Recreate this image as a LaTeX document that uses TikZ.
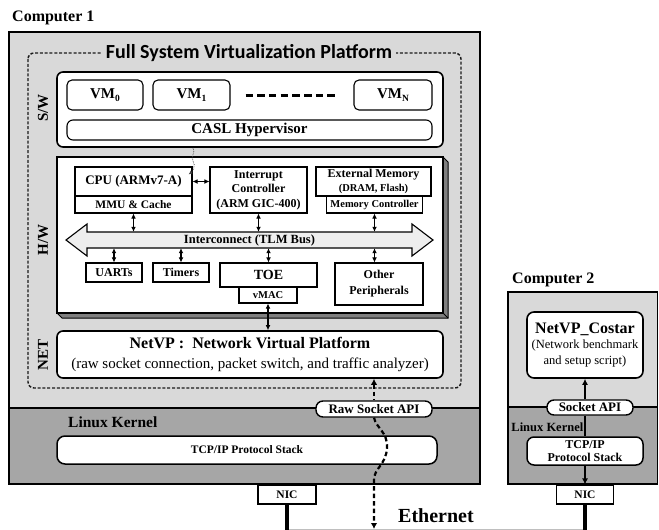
\documentclass[tikz,border=0pt]{standalone}
\usepackage{fontspec}
\setmainfont{Liberation Serif}
\newfontfamily\headfont{Carlito}
\usetikzlibrary{arrows.meta,calc}

\newcommand\fsz[2]{\fontsize{#1}{#2}\selectfont}
\newcommand\vmsub[1]{\raisebox{-2.5pt}{\fsz{9.5}{9.5}#1}}

\definecolor{lightbg}{HTML}{D9D9D9}
\definecolor{darkbg}{HTML}{A6A6A6}
\definecolor{sidegray}{HTML}{7F7F7F}
\definecolor{busfill}{HTML}{EEEEEE}

\begin{document}
\begin{tikzpicture}[x=1pt,y=-1pt,
  hw/.style={draw, line width=1.1pt, fill=white, inner sep=0pt, align=center},
  rbox/.style={draw, line width=1.6pt, fill=white, rounded corners=6pt, inner sep=0pt, align=center},
  pill/.style={draw, line width=1.4pt, fill=white, rounded corners=7pt, inner sep=0pt, align=center},
  dbl/.style={{Latex[length=5pt,width=4.8pt]}-{Latex[length=5pt,width=4.8pt]}, line width=1.1pt},
  side/.style={rotate=90, font=\bfseries\fsz{15}{15}},
  wire/.style={line width=1.6pt},
  ether/.style={line width=4.5pt},
  netdash/.style={line width=2.2pt, dash pattern=on 4.5pt off 3pt}
]
\useasboundingbox (0,0) rectangle (659,530);

% ---------------- Computer 1 ----------------
\node[font=\bfseries\fsz{16}{16}, anchor=west, inner sep=0pt] (c1label) at (12,18) {Computer 1};
\fill[lightbg] (9,32) rectangle (480,408);
\fill[darkbg] (9,408) rectangle (480,484);
\draw[line width=1.2pt] (9,408) -- (480,408);
\draw[line width=1.5pt] (9,32) rectangle (480,484);

% virtualization platform frame
\draw[line width=1.4pt, black!90, dash pattern=on 3pt off 1.8pt, rounded corners=6pt] (28,53) rectangle (461,388);
\node[fill=lightbg, inner xsep=4pt, inner ysep=1pt, font=\headfont\bfseries\fsz{20}{20}] (fsvp) at (249,53) {Full System Virtualization Platform};

% side labels
\node[side] (swlabel) at (43,108) {S/W};
\node[side] (hwlabel) at (43,240) {H/W};
\node[side] (netlabel) at (43,355) {NET};

% software layer
\node[rbox, minimum width=386pt, minimum height=75pt] (sw) at (250,109.5) {};
\node[rbox, line width=1.1pt, rounded corners=5pt, minimum width=76pt, minimum height=30pt, font=\bfseries\fsz{15}{15}] (vm0) at (105,95) {VM\vmsub{0}};
\node[rbox, line width=1.1pt, rounded corners=5pt, minimum width=77pt, minimum height=30pt, font=\bfseries\fsz{15}{15}] (vm1) at (191.5,95) {VM\vmsub{1}};
\node[rbox, line width=1.1pt, rounded corners=5pt, minimum width=78pt, minimum height=30pt, font=\bfseries\fsz{15}{15}] (vmn) at (393,95) {VM\vmsub{N}};
\draw[line width=3pt, dash pattern=on 7.5pt off 4.2pt] ([xshift=15pt]vm1.east) -- ([xshift=-16pt]vmn.west);
\node[rbox, line width=1.1pt, rounded corners=6pt, minimum width=365pt, minimum height=20pt, font=\bfseries\fsz{15}{15}] (casl) at (249.5,130) {CASL Hypervisor};

% hardware layer (extruded board)
\fill[sidegray] (443,157) -- (448,162) -- (448,318) -- (62,318) -- (57,313) -- (443,313) -- cycle;
\draw[line width=1pt] (443,157) -- (448,162) -- (448,318) -- (62,318) -- (57,313);
\draw[line width=1pt] (443,313) -- (448,318);
\node[hw, line width=1.2pt, minimum width=386pt, minimum height=156pt] (hw) at (250,235) {};

\node[hw, minimum width=117pt, minimum height=29pt, font=\bfseries\fsz{13}{13}] (cpu) at (133.5,181.5) {CPU (ARMv7-A)};
\node[hw, minimum width=117pt, minimum height=17pt, font=\bfseries\fsz{11.5}{11.5}] (mmu) at (133.5,204.5) {MMU \& Cache};
\node[hw, minimum width=97pt, minimum height=46pt, font=\bfseries\fsz{12}{14.5}] (intc) at (258.5,190) {Interrupt\\Controller\\(ARM GIC-400)};
\node[hw, minimum width=115pt, minimum height=29pt, font=\bfseries\fsz{12}{13.5}] (extmem) at (373.5,181.5) {External Memory\\{\fsz{10.5}{13.5}(DRAM, Flash)}};
\node[hw, minimum width=96pt, minimum height=17pt, font=\bfseries\fsz{10.5}{10.5}] (memctl) at (374.5,204.5) {Memory Controller};

% interconnect bus
\draw[line width=1.1pt, fill=busfill] (66,240) -- (87,224) -- (87,232) -- (412,232) -- (412,224) -- (433,240) -- (412,256) -- (412,248) -- (87,248) -- (87,256) -- cycle;
\node[inner sep=0pt, minimum width=325pt, minimum height=16pt, font=\bfseries\fsz{12.5}{12.5}] (bus) at (249.5,240) {Interconnect (TLM Bus)};

\node[hw, minimum width=56pt, minimum height=19pt, font=\bfseries\fsz{12}{12}] (uart) at (114,272.5) {UARTs};
\node[hw, minimum width=56pt, minimum height=19pt, font=\bfseries\fsz{12}{12}] (timers) at (181,272.5) {Timers};
\node[hw, minimum width=97pt, minimum height=24pt, font=\bfseries\fsz{14}{14}] (toe) at (268.5,275) {TOE};
\node[hw, minimum width=58pt, minimum height=16pt, font=\bfseries\fsz{10.5}{10.5}] (vmac) at (268,295) {vMAC};
\node[hw, minimum width=88pt, minimum height=42pt, font=\bfseries\fsz{12}{16}] (other) at (379,284) {Other\\Peripherals};

\draw[dbl] (cpu.east) -- (cpu.east -| intc.west);
\draw[dbl] (mmu.south) -- (mmu.south |- bus.north);
\draw[dbl] (intc.south) -- (intc.south |- bus.north);
\draw[dbl] (memctl.south) -- (memctl.south |- bus.north);
\draw[dbl] (bus.south -| uart.north) -- (uart.north);
\draw[dbl] (bus.south -| timers.north) -- (timers.north);
\draw[dbl] (bus.south -| toe.north) -- (toe.north);
\draw[dbl] (bus.south -| memctl.south) -- (other.north -| memctl.south);

% hypervisor trap into the CPU
\draw[line width=0.7pt, black!75, densely dotted, -{Latex[length=4pt,width=3.5pt]}]
  ([xshift=-57pt]sw.south) .. controls +(3,5) and +(-3,-4) .. ++(0,13)
  .. controls +(3,5) and +(4,-3) .. ([xshift=-4pt,yshift=-8pt]cpu.north east);

% network layer
\node[rbox, minimum width=386pt, minimum height=47pt, font=\fsz{15}{20}] (netvp) at (250,354.5)
  {{\bfseries\fsz{16}{20}NetVP :\ \ Network Virtual Platform}\\(raw socket connection, packet switch, and traffic analyzer)};
\draw[dbl] (vmac.south) -- (vmac.south |- netvp.north);

% Linux kernel of computer 1
\node[font=\bfseries\fsz{15.5}{15.5}, anchor=west, inner sep=0pt] (lk1) at (68,422) {Linux Kernel};
\node[rbox, line width=1.5pt, rounded corners=8pt, minimum width=380pt, minimum height=28pt, font=\bfseries\fsz{11.5}{11.5}] (tcp1) at (247,450) {TCP/IP Protocol Stack};
\node[pill, minimum width=116pt, minimum height=16pt, font=\bfseries\fsz{13}{13}] (rawapi) at (374,409) {Raw Socket API};
\node[hw, minimum width=58pt, minimum height=19pt, font=\bfseries\fsz{11.5}{11.5}] (nic1) at (287,494.5) {NIC};

% ---------------- Computer 2 ----------------
\node[font=\bfseries\fsz{16}{16}, anchor=west, inner sep=0pt] (c2label) at (512,280) {Computer 2};
\fill[lightbg] (508,292) rectangle (657.5,407);
\fill[darkbg] (508,407) rectangle (657.5,484);
\draw[line width=1.2pt] (508,407) -- (657.5,407);
\draw[line width=1.5pt] (508,292) rectangle (657.5,484);

\node[rbox, rounded corners=7pt, minimum width=116pt, minimum height=66pt, font=\fsz{12.5}{15.5}] (costar) at (585,345)
  {{\bfseries\fsz{16}{15.5}NetVP\_Costar}\\(Network benchmark\\and setup script)};
\node[pill, minimum width=86pt, minimum height=15pt, font=\bfseries\fsz{13}{13}] (sockapi) at (590,407.5) {Socket API};
\node[font=\bfseries\fsz{12.5}{12.5}, anchor=east, inner sep=0pt] (lk2) at (583.5,427) {Linux Kernel};
\node[rbox, line width=1.5pt, rounded corners=7pt, minimum width=116pt, minimum height=28pt, font=\bfseries\fsz{12}{13.5}] (tcp2) at (585,451) {TCP/IP\\Protocol Stack};
\node[hw, minimum width=57pt, minimum height=19pt, font=\bfseries\fsz{11.5}{11.5}] (nic2) at (585,494.5) {NIC};

\draw[wire, -{Latex[length=6pt,width=6pt]}] (sockapi.north -| costar.south) -- (costar.south);
\draw[wire] (sockapi.south -| costar.south) -- (tcp2.north);
\draw[wire, -{Latex[length=6pt,width=6pt]}] (tcp2.south) -- (nic2.north);

% ---------------- Ethernet ----------------
\coordinate (ethL) at (287,529);
\coordinate (ethR) at (585,529);
\coordinate (ethdash) at (374,529);
\draw[black!25, line width=0.8pt] (ethL) -- (ethR);
\draw[ether] (nic1.south) -- (nic1.south |- 0,530);
\draw[ether] (nic2.south) -- (nic2.south |- 0,530);
\node[font=\bfseries\fsz{20}{20}, inner sep=0pt] (eth) at (436,516) {Ethernet};

% raw socket path between the platform and the wire
\draw[netdash, {Latex[length=6pt,width=6.5pt]}-] (netvp.south -| rawapi.north) -- (rawapi.north);
\draw[netdash, -{Latex[length=6pt,width=6.5pt]}] (rawapi.south)
  .. controls (376,428) and (388,432) .. (387,448)
  .. controls (386,465) and (374,468) .. (374,480) -- (ethdash);
\end{tikzpicture}
\end{document}
